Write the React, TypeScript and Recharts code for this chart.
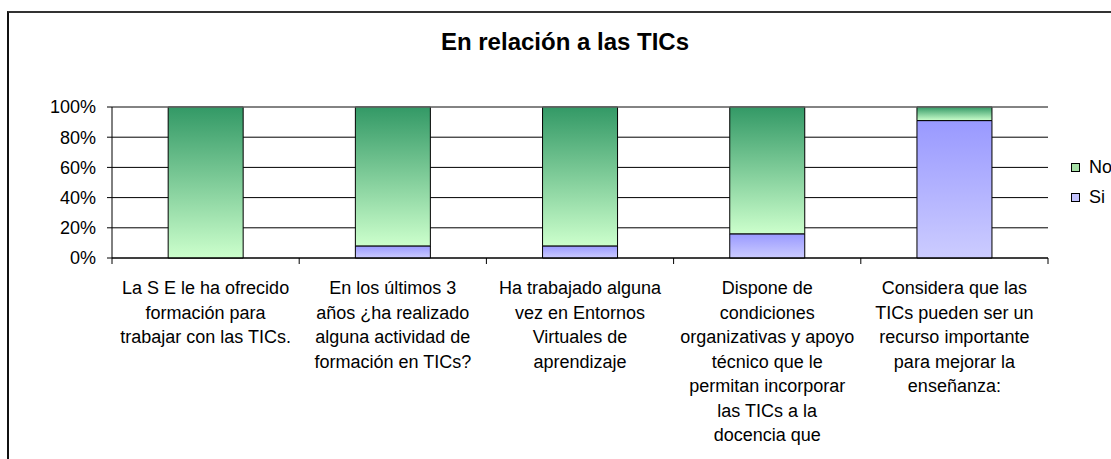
import { BarChart, Bar, XAxis, YAxis, CartesianGrid, ReferenceLine } from 'recharts';

// chart data
const categories = ['SE formacion', 'Ultimos 3 anos', 'Entornos virtuales', 'Condiciones', 'Recurso importante'];
const siValues = [0, 8, 8, 16, 91];
const noValues = [100, 92, 92, 84, 9];
const yTicks = [0, 20, 40, 60, 80, 100];
const labelLines: string[][] = [
  ['La S E le ha ofrecido', 'formación para', 'trabajar con las TICs.'],
  ['En los últimos 3', 'años ¿ha realizado', 'alguna actividad de', 'formación en TICs?'],
  ['Ha trabajado alguna', 'vez en Entornos', 'Virtuales de', 'aprendizaje'],
  ['Dispone de', 'condiciones', 'organizativas y apoyo', 'técnico que le', 'permitan incorporar', 'las TICs a la', 'docencia que'],
  ['Considera que las', 'TICs pueden ser un', 'recurso importante', 'para mejorar la', 'enseñanza:'],
];

const data = categories.map((name, i) => ({ name, Si: siValues[i], No: noValues[i] }));

const FONT = '"Liberation Sans", Arial, sans-serif';
const W = 1111;
const H = 459;
const PLOT_LEFT = 112;
const PLOT_RIGHT = 1048;
const BAND = (PLOT_RIGHT - PLOT_LEFT) / categories.length;

const legendItems = [
  { key: 'No', fill: '#a6e0a6' },
  { key: 'Si', fill: '#c4c4ff' },
];

function CategoryTick(props: any) {
  const { x, y, payload, index } = props;
  const lines = labelLines[index] || [];
  return (
    <g>
      <line x1={x - BAND / 2} x2={x - BAND / 2} y1={y} y2={y + 6} stroke="#000" />
      {index === categories.length - 1 && (
        <line x1={x + BAND / 2} x2={x + BAND / 2} y1={y} y2={y + 6} stroke="#000" />
      )}
      <text x={x} y={y + 36} textAnchor="middle" fontSize={18} fontFamily={FONT} fill="#000" data-cat={payload.value}>
        {lines.map((l, i) => (
          <tspan key={i} x={x} dy={i === 0 ? 0 : 24.5}>
            {l}
          </tspan>
        ))}
      </text>
    </g>
  );
}

function LegendBox() {
  return (
    <div style={{ position: 'absolute', left: 1071, top: 152, fontFamily: FONT, fontSize: 18, color: '#000' }}>
      {legendItems.map((it) => (
        <div key={it.key} style={{ display: 'flex', alignItems: 'center', height: 30, whiteSpace: 'nowrap' }}>
          <span style={{ display: 'inline-block', width: 7, height: 7, border: '1px solid #000', background: it.fill, marginRight: 9 }} />
          <span>{it.key}</span>
        </div>
      ))}
    </div>
  );
}

export default function App() {
  return (
    <div style={{ position: 'fixed', left: 0, top: 0, width: W, height: H, overflow: 'hidden', background: '#fff' }}>
      <div
        style={{
          position: 'absolute',
          left: 7,
          top: 11,
          width: 1200,
          height: 600,
          borderTop: '2px solid #333',
          borderLeft: '2px solid #111',
        }}
      />
      <div
        style={{
          position: 'absolute',
          left: 0,
          width: 1130,
          top: 28,
          textAlign: 'center',
          fontFamily: FONT,
          fontWeight: 'bold',
          fontSize: 24,
          color: '#000',
        }}
      >
        En relación a las TICs
      </div>
      <div style={{ position: 'absolute', left: 0, top: 0 }}>
        <BarChart
          width={W}
          height={H}
          data={data}
          barCategoryGap="30%"
          margin={{ top: 107, right: 63, left: 52, bottom: 51 }}
        >
          <defs>
            <linearGradient id="gNo" x1="0" y1="0" x2="0" y2="1">
              <stop offset="0%" stopColor="#339966" />
              <stop offset="100%" stopColor="#ccffcc" />
            </linearGradient>
            <linearGradient id="gSi" x1="0" y1="0" x2="0" y2="1">
              <stop offset="0%" stopColor="#9999ff" />
              <stop offset="100%" stopColor="#ccccff" />
            </linearGradient>
          </defs>
          <CartesianGrid vertical={false} stroke="#000" strokeWidth={1} />
          <ReferenceLine y={100} stroke="#888" strokeWidth={1} />
          <XAxis
            dataKey="name"
            height={150}
            axisLine={{ stroke: '#000' }}
            tickLine={false}
            tickSize={0}
            tickMargin={0}
            interval={0}
            tick={<CategoryTick />}
          />
          <YAxis
            width={60}
            domain={[0, 100]}
            ticks={yTicks}
            interval={0}
            tickFormatter={(v) => `${v}%`}
            axisLine={{ stroke: '#000' }}
            tickLine={{ stroke: '#000' }}
            tickSize={5}
            tickMargin={11}
            tick={{ fontSize: 18, fontFamily: FONT, fill: '#000' }}
          />
          <YAxis
            yAxisId="right"
            orientation="right"
            width={0}
            domain={[0, 100]}
            axisLine={{ stroke: '#888' }}
            tick={false}
            tickLine={false}
          />
          <Bar dataKey="Si" stackId="a" fill="url(#gSi)" stroke="#000" strokeWidth={1} isAnimationActive={false} />
          <Bar dataKey="No" stackId="a" fill="url(#gNo)" stroke="#000" strokeWidth={1} isAnimationActive={false} />
        </BarChart>
      </div>
      <LegendBox />
    </div>
  );
}
